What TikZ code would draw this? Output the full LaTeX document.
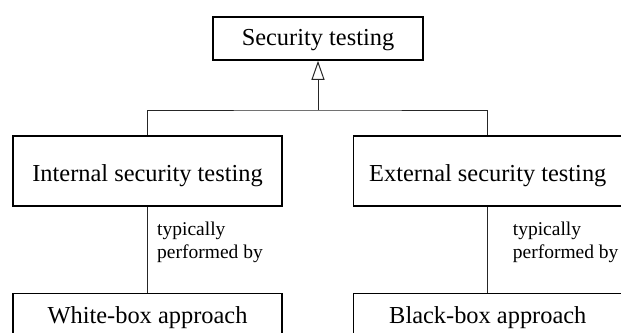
\documentclass[tikz,border=0pt]{standalone}
\usepackage{fontspec}
\setmainfont{Liberation Serif}
\usetikzlibrary{arrows.meta}
\begin{document}
\begin{tikzpicture}[x=1pt,y=-1pt,
  box/.style={draw=black, line width=1.6pt, inner sep=0pt, minimum width=269pt,
    font=\fontsize{24.4}{28}\selectfont, text height=20pt, text depth=0pt},
  link/.style={draw=black!85, line width=1pt},
  note/.style={align=left, inner sep=0pt, anchor=base west,
    font=\fontsize{19.5}{23.5}\selectfont}]
\useasboundingbox (0,0) rectangle (621,332);
% class boxes
\node[box, minimum width=210pt, minimum height=43pt, text height=17pt, text depth=3pt]
  (sec) at (318,38.5) {Security testing};
\node[box, minimum height=70pt] (int) at (147.5,171) {Internal security testing};
\node[box, minimum height=70pt] (ext) at (487.8,171) {External security testing};
\node[box, minimum height=40pt] (wb) at (147.5,313.5) {White-box approach};
\node[box, minimum height=40pt] (bb) at (487.8,313.5) {Black-box approach};
% generalisation
\coordinate (junc) at (318,110);
\draw[link, -{Triangle[open, length=19pt, width=13pt]}] (junc) -- (sec.south);
\draw[link] (int.north) |- (junc) -| (ext.north);
% associations (base anchor sits on the last line)
\draw[link] (int.south) -- (wb.north);
\draw[link] (ext.south) -- (bb.north);
\node[note] (lnote) at (157,258.5) {typically\\performed by};
\node[note] (rnote) at (512.7,258.5) {typically\\performed by};
\end{tikzpicture}
\end{document}
